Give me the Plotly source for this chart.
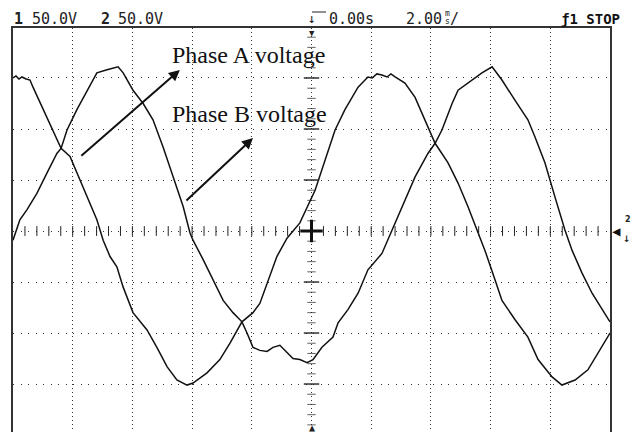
import numpy as np
import plotly.graph_objects as go

# Time base 2 ms/div, both channels 50 V/div, trigger at t = 0
time_a_ms = [-10.00, -9.90, -9.80, -9.70, -9.56, -9.43, -9.33, -8.99, -8.66, -8.39,
             -8.09, -7.86, -7.52, -7.19, -6.98, -6.75, -6.52, -6.31, -5.98, -5.51,
             -5.18, -4.84, -4.51, -4.17, -3.97, -3.50, -3.07, -2.73, -2.33, -1.96,
             -1.73, -1.49, -1.16, -0.82, -0.39, 0.12, 0.45, 0.79, 1.12, 1.56,
             1.89, 2.03, 2.19, 2.36, 2.53, 2.66, 2.80, 3.13, 3.47, 3.80,
             4.14, 4.57, 4.91, 5.24, 5.58, 5.81, 6.15, 6.38, 6.82, 7.25,
             7.59, 8.06, 8.39, 8.83, 9.26, 9.60, 10.00]
volt_a = [150, 152, 149, 151, 149, 148, 141, 119, 99, 81,
          73, 57, 33, 11, -9, -25, -35, -55, -80, -97,
          -114, -133, -146, -151, -149, -139, -126, -110, -89, -80,
          -71, -51, -25, -7, 8, 40, 70, 99, 119, 141,
          151, 150, 154, 153, 151, 154, 151, 145, 131, 109,
          86, 67, 47, 24, -1, -19, -48, -68, -87, -104,
          -126, -143, -151, -146, -136, -120, -100]

time_b_ms = [-10.00, -9.77, -9.53, -9.20, -8.86, -8.53, -8.39, -8.19, -7.86, -7.52,
             -7.19, -6.85, -6.48, -6.31, -5.98, -5.64, -5.31, -4.97, -4.64, -4.30,
             -4.07, -3.97, -3.63, -3.30, -2.96, -2.63, -2.33, -2.16, -1.96, -1.73,
             -1.49, -1.29, -1.06, -0.82, -0.62, -0.39, -0.15, 0.05, 0.35, 0.72,
             0.89, 1.22, 1.56, 1.89, 2.36, 2.70, 3.03, 3.47, 3.90, 4.14,
             4.37, 4.71, 4.91, 5.38, 5.71, 6.05, 6.38, 6.82, 7.25, 7.49,
             7.82, 8.16, 8.49, 8.73, 9.06, 9.40, 9.73, 10.00]
volt_b = [-9, 11, 21, 37, 57, 76, 81, 99, 119, 138,
          155, 158, 161, 155, 138, 125, 109, 82, 53, 24,
          -2, -9, -28, -48, -68, -80, -89, -100, -114, -117,
          -118, -114, -112, -119, -125, -126, -129, -126, -114, -104,
          -90, -77, -61, -38, -22, 1, 24, 53, 76, 86,
          99, 125, 138, 148, 155, 161, 148, 128, 109, 92,
          67, 33, 1, -19, -41, -61, -77, -89]

labels = ["Phase A voltage", "Phase B voltage"]
# arrow (tail, head) in (ms, V)
arrow_tail = [(-7.76, 72.5), (-4.24, 28.5)]
arrow_head = [(-4.41, 157.9), (-1.96, 91.2)]

header_left = ["1", "50.0V", "2", "50.0V"]
header_time = "0.00s"
header_base = "2.00"
header_state = "1 STOP"

W, H = 635, 432
L, R, T, B = 13, 25, 28, 0
PW, PH = W - L - R, H - T - B


def px(x):
    return (x - L) / PW


def py(y):
    return (H - B - y) / PH


fig = go.Figure()

fig.add_trace(go.Scatter(x=time_a_ms, y=volt_a, mode="lines",
                         line=dict(color="#111111", width=1.5), name="A"))
fig.add_trace(go.Scatter(x=time_b_ms, y=volt_b, mode="lines",
                         line=dict(color="#111111", width=1.5), name="B"))

# graticule tick marks along the centre cross
cx = np.round(np.arange(-9.6, 10.0, 0.4), 2)
cx = cx[np.abs(cx) > 0.1]
fig.add_trace(go.Scatter(x=cx, y=np.zeros_like(cx), mode="markers",
                         marker=dict(symbol="line-ns", size=7,
                                     line=dict(width=1, color="#222")),
                         hoverinfo="skip"))
cy = np.arange(-190, 200, 10)
cy = cy[cy != 0]
fig.add_trace(go.Scatter(x=np.zeros_like(cy), y=cy, mode="markers",
                         marker=dict(symbol="line-ew", size=[11 if v % 50 == 0 else 6 for v in cy],
                                     line=dict(width=[2 if v % 50 == 0 else 1 for v in cy], color="#222")),
                         hoverinfo="skip"))
fig.add_trace(go.Scatter(x=[0], y=[0], mode="markers",
                         marker=dict(symbol="cross-thin", size=16,
                                     line=dict(width=3, color="#111")),
                         hoverinfo="skip"))

ann = []
mono = "DejaVu Sans Mono"


def txt(x, y, s, size=15, family=mono, xa="left", ya="middle", color="#222"):
    ann.append(dict(x=px(x), y=py(y), xref="paper", yref="paper", text=s,
                    showarrow=False, xanchor=xa, yanchor=ya,
                    font=dict(family=family, size=size, color=color)))


txt(12, 19, "<b>" + header_left[0] + "</b>")
txt(30, 19, header_left[1])
txt(99, 19, "<b>" + header_left[2] + "</b>")
txt(116, 19, header_left[3])
txt(327, 19, header_time)
txt(404, 19, header_base)
txt(443, 14, "m", size=8)
txt(443, 22, "s", size=8)
txt(448, 19, "/", size=15)
txt(559, 19, "<b>ƒ" + header_state + "</b>", size=14, family=mono, color="#111")
# trigger position markers
txt(312, 19, "↓", size=13, xa="center")
txt(312, 33, "▼", size=9, xa="center")
txt(312, 427, "▲", size=10, xa="center")
# ground level markers
txt(610, 231, "<b>◀</b>", size=14, color="#111")
txt(623, 219, "<b>2</b>", size=8, family="DejaVu Sans")
txt(621, 239, "<b>↓</b>", size=9, family="DejaVu Sans")

# labels
txt(170, 55, labels[0], size=24, family="Liberation Serif", color="#111")
txt(170, 114, labels[1], size=24, family="Liberation Serif", color="#111")

for (tx, ty), (hx, hy) in zip(arrow_tail, arrow_head):
    ann.append(dict(x=hx, y=hy, ax=tx, ay=ty, xref="x", yref="y",
                    axref="x", ayref="y", showarrow=True, arrowhead=2,
                    arrowsize=1.1, arrowwidth=2, arrowcolor="#111", text=""))

shapes = [dict(type="line", xref="paper", yref="paper",
               x0=px(312), x1=px(326), y0=py(12), y1=py(12),
               line=dict(color="#222", width=1))]

fig.update_layout(
    width=W, height=H,
    margin=dict(l=L, r=R, t=T, b=B),
    paper_bgcolor="white", plot_bgcolor="white",
    showlegend=False,
    annotations=ann, shapes=shapes,
    xaxis=dict(range=[-10, 10], dtick=2, showticklabels=False, ticks="",
               showgrid=True, gridcolor="#333", gridwidth=1, griddash="1px,3px",
               zeroline=False, side="top", showline=True, linecolor="#333",
               linewidth=1.5, mirror=False),
    yaxis=dict(range=[-197, 199], dtick=50, showticklabels=False, ticks="",
               showgrid=True, gridcolor="#333", gridwidth=1, griddash="1px,6.5px",
               zeroline=False, showline=True, linecolor="#333", linewidth=1.5,
               mirror=True),
)

fig.write_html("out.html")
